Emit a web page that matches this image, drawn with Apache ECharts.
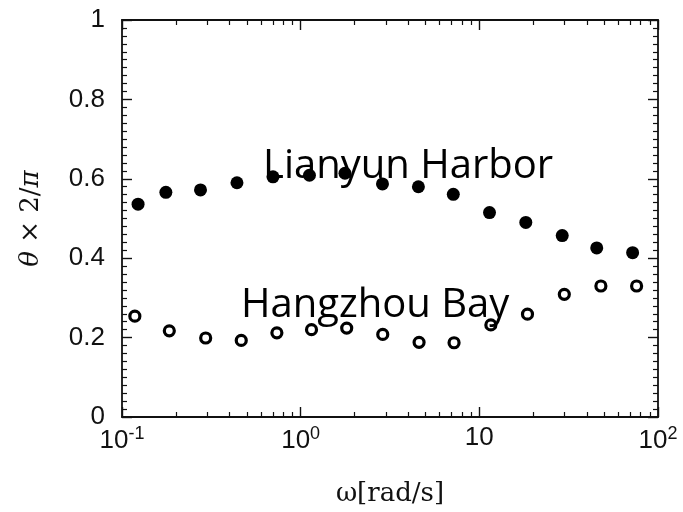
<!DOCTYPE html>
<html>
<head>
<meta charset="utf-8">
<script src="https://cdn.jsdelivr.net/npm/echarts@6/dist/echarts.min.js"></script>
<style>html,body{margin:0;padding:0;background:#fff}#c{width:683px;height:512px}</style>
</head>
<body>
<div id="c"></div>
<script>
// Lianyun Harbor (filled)
const lianyunX = [0.123, 0.176, 0.275, 0.44, 0.70, 1.12, 1.77, 2.87, 4.56, 7.15, 11.4, 18.2, 29.1, 45.4, 72.1];
const lianyunY = [0.536, 0.566, 0.572, 0.590, 0.605, 0.609, 0.614, 0.587, 0.580, 0.561, 0.515, 0.490, 0.457, 0.426, 0.414];
// Hangzhou Bay (open)
const hangzhouX = [0.118, 0.184, 0.294, 0.465, 0.736, 1.15, 1.81, 2.88, 4.60, 7.22, 11.6, 18.6, 29.9, 47.9, 75.9];
const hangzhouY = [0.254, 0.217, 0.199, 0.193, 0.212, 0.220, 0.224, 0.208, 0.188, 0.187, 0.232, 0.259, 0.309, 0.330, 0.330];
const xMajorTicks = [0.1, 1, 10, 100];
const xTickLabels = {'0.1': ['10', '-1'], '1': ['10', '0'], '10': ['10', ''], '100': ['10', '2']};
const xMinorTicks = [0.2,0.3,0.4,0.5,0.6,0.7,0.8,0.9,2,3,4,5,6,7,8,9,20,30,40,50,60,70,80,90];
const yTicks = [0, 0.2, 0.4, 0.6, 0.8, 1];
const annotations = [
  {text: 'Lianyun Harbor', x: 263, y: 167},
  {text: 'Hangzhou Bay', x: 241, y: 306}
];

const axisCol = '#111';
const labCol = '#111';
const chart = echarts.init(document.getElementById('c'));
function xAx(pos, major, labels) {
  return {
    type: 'log', logBase: 10, min: 0.1, max: 100, position: pos,
    gridIndex: 0,
    axisLine: {show: major, lineStyle: {color: axisCol, width: 1.8}},
    axisTick: major ? {show: true, inside: true, length: 10, lineStyle: {color: axisCol, width: 1.4}, customValues: xMajorTicks}
                    : {show: true, inside: true, length: 5, lineStyle: {color: axisCol, width: 1.2}, customValues: xMinorTicks},
    minorTick: {show: false},
    splitLine: {show: false},
    axisLabel: labels ? {
      show: true, margin: 8, customValues: xMajorTicks,
      fontFamily: 'Liberation Sans', fontSize: 26, color: labCol,
      formatter: function (v) {
        const k = String(Math.round(v * 10) / 10);
        const p = xTickLabels[k] || [String(v), ''];
        return '{b|' + p[0] + '}' + (p[1] ? '{s|' + p[1] + '}' : '');
      },
      rich: {
        b: {fontFamily: 'Liberation Sans', fontSize: 26, color: labCol},
        s: {fontFamily: 'Liberation Sans', fontSize: 18, color: labCol, padding: [0, 0, 14, 0]}
      }
    } : {show: false},
    name: labels ? 'ω[rad/s]' : '',
    nameLocation: 'middle', nameGap: 64,
    nameTextStyle: {fontFamily: 'DejaVu Serif', fontSize: 26, color: labCol}
  };
}
function yAx(pos, labels) {
  return {
    type: 'value', min: 0, max: 1, interval: 0.2, position: pos,
    axisLine: {show: true, lineStyle: {color: axisCol, width: 1.8}},
    axisTick: {show: true, inside: true, length: 10, lineStyle: {color: axisCol, width: 1.4}},
    minorTick: {show: true, splitNumber: 10, length: 5, lineStyle: {color: axisCol, width: 1.2}},
    splitLine: {show: false},
    axisLabel: labels ? {show: true, margin: 17, fontFamily: 'Liberation Sans', fontSize: 26, color: labCol,
      formatter: function (v) { return String(Math.round(v * 10) / 10); }} : {show: false},
    name: labels ? '{i|θ} × 2/{i|π}' : '',
    nameLocation: 'middle', nameGap: 78, nameRotate: 90,
    nameTextStyle: {fontFamily: 'DejaVu Serif', fontSize: 26, color: labCol,
      rich: {i: {fontFamily: 'DejaVu Serif', fontStyle: 'italic', fontSize: 26, color: labCol}}}
  };
}
const option = {
  animation: false,
  backgroundColor: '#fff',
  grid: {left: 122, right: 25, top: 20, bottom: 95, containLabel: false},
  xAxis: [xAx('bottom', true, true), xAx('bottom', false, false), xAx('top', true, false), xAx('top', false, false)],
  yAxis: [yAx('left', true), yAx('right', false)],
  series: [
    {type: 'scatter', name: 'Lianyun Harbor', xAxisIndex: 0, yAxisIndex: 0,
     data: lianyunX.map((x, i) => [x, lianyunY[i]]),
     symbol: 'circle', symbolSize: 13, itemStyle: {color: '#000', opacity: 1}, z: 3},
    {type: 'scatter', name: 'Hangzhou Bay', xAxisIndex: 0, yAxisIndex: 0,
     data: hangzhouX.map((x, i) => [x, hangzhouY[i]]),
     symbol: 'circle', symbolSize: 10, itemStyle: {color: '#fff', borderColor: '#000', borderWidth: 3.2, opacity: 1}, z: 3}
  ],
  graphic: annotations.map(a => ({
    type: 'text', z: 10, x: a.x, y: a.y,
    style: {text: a.text, fontFamily: 'Open Sans', fontSize: 40, fill: '#000', verticalAlign: 'middle', align: 'left'}
  }))
};
chart.setOption(option);
</script>
</body>
</html>
